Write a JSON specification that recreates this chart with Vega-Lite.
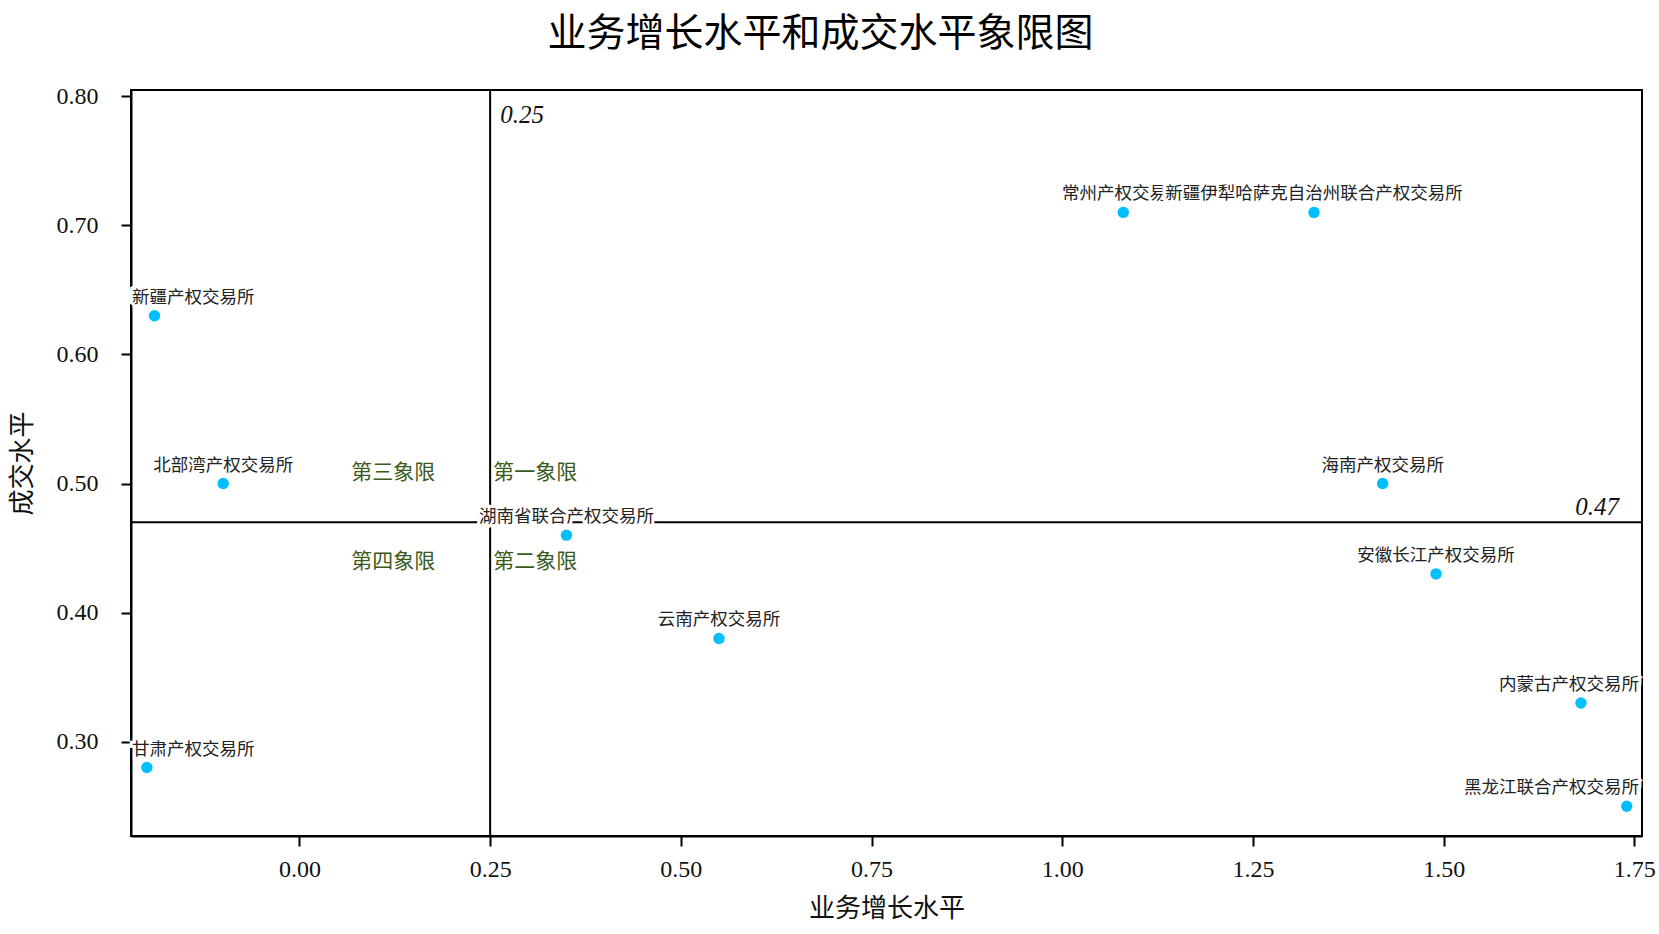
{
  "$schema": "https://vega.github.io/schema/vega-lite/v6.json",
  "width": 1511,
  "height": 746,
  "autosize": "none",
  "padding": {"left": 131, "top": 90, "right": 17, "bottom": 98},
  "background": "white",
  "title": {
    "text": "业务增长水平和成交水平象限图",
    "font": "Noto Sans CJK SC",
    "fontSize": 39,
    "fontWeight": "normal",
    "color": "#000000",
    "anchor": "middle",
    "dx": -66,
    "offset": 30
  },
  "datasets": {
    "exchanges": [
      {"name": "新疆产权交易所", "growth": -0.19, "deal": 0.63, "side": "left"},
      {"name": "北部湾产权交易所", "growth": -0.10, "deal": 0.50, "side": "mid"},
      {"name": "甘肃产权交易所", "growth": -0.20, "deal": 0.28, "side": "left"},
      {"name": "湖南省联合产权交易所", "growth": 0.35, "deal": 0.46, "side": "mid"},
      {"name": "云南产权交易所", "growth": 0.55, "deal": 0.38, "side": "mid"},
      {"name": "常州产权交易所", "growth": 1.08, "deal": 0.71, "side": "mid"},
      {"name": "新疆伊犁哈萨克自治州联合产权交易所", "growth": 1.33, "deal": 0.71, "side": "top"},
      {"name": "海南产权交易所", "growth": 1.42, "deal": 0.50, "side": "mid"},
      {"name": "安徽长江产权交易所", "growth": 1.49, "deal": 0.43, "side": "mid"},
      {"name": "内蒙古产权交易所", "growth": 1.68, "deal": 0.33, "side": "right"},
      {"name": "黑龙江联合产权交易所", "growth": 1.74, "deal": 0.25, "side": "right"}
    ],
    "quadrants": [
      {"label": "第三象限", "growth": 0.123, "deal": 0.508},
      {"label": "第一象限", "growth": 0.309, "deal": 0.508},
      {"label": "第四象限", "growth": 0.123, "deal": 0.439},
      {"label": "第二象限", "growth": 0.309, "deal": 0.439}
    ],
    "one": [{}]
  },
  "data": {"name": "exchanges"},
  "layer": [
    {
      "data": {"name": "one"},
      "mark": {"type": "rule", "color": "#000000", "strokeWidth": 2},
      "encoding": {
        "x": {"datum": 0.25, "type": "quantitative", "scale": {"domain": [-0.2208, 1.76], "nice": false, "zero": false},
              "axis": {"values": [0, 0.25, 0.5, 0.75, 1, 1.25, 1.5, 1.75], "format": ".2f", "title": "业务增长水平"}}
      }
    },
    {
      "data": {"name": "one"},
      "mark": {"type": "rule", "color": "#000000", "strokeWidth": 2},
      "encoding": {
        "y": {"datum": 0.47, "type": "quantitative", "scale": {"domain": [0.227, 0.8048], "nice": false, "zero": false},
              "axis": {"values": [0.3, 0.4, 0.5, 0.6, 0.7, 0.8], "format": ".2f", "title": "成交水平"}}
      }
    },
    {
      "data": {"name": "one"},
      "mark": {"type": "text", "text": "0.25", "font": "Liberation Serif", "fontStyle": "italic", "fontSize": 25, "align": "left", "baseline": "top", "dx": 10, "dy": 13, "color": "#111111"},
      "encoding": {
        "x": {"datum": 0.25, "type": "quantitative"},
        "y": {"datum": 0.8048, "type": "quantitative"}
      }
    },
    {
      "data": {"name": "one"},
      "mark": {"type": "text", "text": "0.47", "font": "Liberation Serif", "fontStyle": "italic", "fontSize": 25, "align": "right", "baseline": "alphabetic", "dx": -23, "dy": -7, "color": "#111111"},
      "encoding": {
        "x": {"datum": 1.76, "type": "quantitative"},
        "y": {"datum": 0.47, "type": "quantitative"}
      }
    },
    {
      "data": {"name": "quadrants"},
      "mark": {"type": "text", "font": "Noto Sans CJK SC", "fontSize": 21, "align": "center", "baseline": "middle", "color": "#3b5a1c"},
      "encoding": {
        "x": {"field": "growth", "type": "quantitative"},
        "y": {"field": "deal", "type": "quantitative"},
        "text": {"field": "label"}
      }
    },
    {
      "mark": {"type": "circle", "size": 130, "opacity": 1, "color": "#00bfff"},
      "encoding": {
        "x": {"field": "growth", "type": "quantitative"},
        "y": {"field": "deal", "type": "quantitative"}
      }
    },
    {
      "transform": [{"filter": "datum.side == 'mid'"}],
      "layer": [
        {"mark": {"type": "text", "font": "Noto Sans CJK SC", "fontSize": 17.5, "align": "center", "baseline": "middle", "dy": -18, "color": "#ffffff", "stroke": "#ffffff", "strokeWidth": 6}},
        {"mark": {"type": "text", "font": "Noto Sans CJK SC", "fontSize": 17.5, "align": "center", "baseline": "middle", "dy": -18, "color": "#222222"}}
      ],
      "encoding": {
        "x": {"field": "growth", "type": "quantitative"},
        "y": {"field": "deal", "type": "quantitative"},
        "text": {"field": "name"}
      }
    },
    {
      "transform": [{"filter": "datum.side == 'top'"}],
      "layer": [
        {"mark": {"type": "text", "font": "Noto Sans CJK SC", "fontSize": 17.5, "align": "center", "baseline": "middle", "dy": -18, "color": "#ffffff", "stroke": "#ffffff", "strokeWidth": 7}},
        {"mark": {"type": "text", "font": "Noto Sans CJK SC", "fontSize": 17.5, "align": "center", "baseline": "middle", "dy": -18, "color": "#222222"}}
      ],
      "encoding": {
        "x": {"field": "growth", "type": "quantitative"},
        "y": {"field": "deal", "type": "quantitative"},
        "text": {"field": "name"}
      }
    },
    {
      "transform": [{"filter": "datum.side == 'left'"}],
      "layer": [
        {"mark": {"type": "text", "font": "Noto Sans CJK SC", "fontSize": 17.5, "align": "left", "baseline": "middle", "dx": 1, "dy": -18, "color": "#ffffff", "stroke": "#ffffff", "strokeWidth": 6}},
        {"mark": {"type": "text", "font": "Noto Sans CJK SC", "fontSize": 17.5, "align": "left", "baseline": "middle", "dx": 1, "dy": -18, "color": "#222222"}}
      ],
      "encoding": {
        "x": {"datum": -0.2208, "type": "quantitative"},
        "y": {"field": "deal", "type": "quantitative"},
        "text": {"field": "name"}
      }
    },
    {
      "transform": [{"filter": "datum.side == 'right'"}],
      "layer": [
        {"mark": {"type": "text", "font": "Noto Sans CJK SC", "fontSize": 17.5, "align": "right", "baseline": "middle", "dx": -3, "dy": -18, "color": "#ffffff", "stroke": "#ffffff", "strokeWidth": 6}},
        {"mark": {"type": "text", "font": "Noto Sans CJK SC", "fontSize": 17.5, "align": "right", "baseline": "middle", "dx": -3, "dy": -18, "color": "#222222"}}
      ],
      "encoding": {
        "x": {"datum": 1.76, "type": "quantitative"},
        "y": {"field": "deal", "type": "quantitative"},
        "text": {"field": "name"}
      }
    }
  ],
  "config": {
    "view": {"stroke": "#000000", "strokeWidth": 2},
    "axis": {
      "grid": false,
      "domainColor": "#000000",
      "domainWidth": 2,
      "tickColor": "#000000",
      "tickWidth": 2,
      "tickSize": 10,
      "labelFont": "Liberation Serif",
      "labelFontSize": 24,
      "labelColor": "#111111",
      "titleFont": "Noto Sans CJK SC",
      "titleFontSize": 26,
      "titleFontWeight": "normal",
      "titleColor": "#111111"
    },
    "axisX": {"labelPadding": 11, "titlePadding": 14},
    "axisY": {"labelPadding": 23, "titlePadding": 21}
  }
}
